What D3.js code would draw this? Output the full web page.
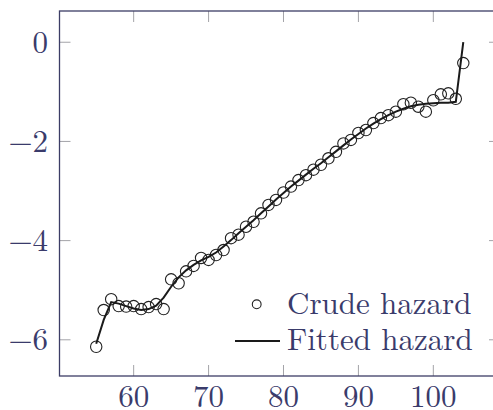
<!DOCTYPE html>
<html>
<head>
<meta charset="utf-8">
<script src="https://cdn.jsdelivr.net/npm/d3@7"></script>
<style>
    body { margin: 0; background: #fff; }
    svg text { font-family: "Latin Modern Roman", "CMU Serif", "Liberation Serif", serif; fill: #3a3b6b; }
</style>
</head>
<body>
<div id="vis"></div>
<script>
const width = 493;
const height = 410;

const ages = d3.range(55, 105);
const crudeHazard = [
    -6.14, -5.40, -5.18, -5.32, -5.33, -5.32, -5.38, -5.34, -5.28, -5.38,
    -4.78, -4.86, -4.62, -4.51, -4.35, -4.39, -4.29, -4.19, -3.95, -3.88,
    -3.72, -3.62, -3.45, -3.28, -3.18, -3.03, -2.91, -2.78, -2.68, -2.57,
    -2.47, -2.34, -2.21, -2.04, -1.97, -1.83, -1.77, -1.63, -1.53, -1.47,
    -1.40, -1.25, -1.22, -1.30, -1.40, -1.17, -1.05, -1.03, -1.14, -0.42
];
const fittedHazard = [
    -6.08, -5.60, -5.24, -5.27, -5.32, -5.37, -5.40, -5.38, -5.31, -5.15,
    -4.93, -4.74, -4.60, -4.49, -4.40, -4.33, -4.24, -4.12, -3.99, -3.85,
    -3.72, -3.59, -3.45, -3.31, -3.17, -3.04, -2.91, -2.79, -2.67, -2.55,
    -2.44, -2.32, -2.20, -2.08, -1.96, -1.85, -1.74, -1.64, -1.55, -1.47,
    -1.40, -1.34, -1.29, -1.26, -1.24, -1.23, -1.22, -1.22, -1.20, 0.00
];
const xTicks = [60, 70, 80, 90, 100];
const yTicks = [0, -2, -4, -6];
const legendLabels = ["Crude hazard", "Fitted hazard"];

const frame = { left: 59.5, right: 500, top: 11, bottom: 376 };
const tickLen = 11;

const svg = d3.select("#vis").append("svg")
    .attr("width", width)
    .attr("height", height);

const xScale = d3.scaleLinear()
    .domain([50.1, 108.9])
    .range([frame.left, frame.right]);

const yScale = d3.scaleLinear()
    .domain([-6.73, 0.63])
    .range([frame.bottom, frame.top]);

// inner tick marks on all four sides
const tickColor = "#a3a3a8";
xTicks.forEach(t => {
    svg.append("line").attr("x1", xScale(t)).attr("x2", xScale(t))
        .attr("y1", frame.bottom).attr("y2", frame.bottom - tickLen)
        .attr("stroke", tickColor).attr("stroke-width", 1);
    svg.append("line").attr("x1", xScale(t)).attr("x2", xScale(t))
        .attr("y1", frame.top).attr("y2", frame.top + tickLen)
        .attr("stroke", tickColor).attr("stroke-width", 1);
});
yTicks.forEach(t => {
    svg.append("line").attr("x1", frame.left).attr("x2", frame.left + tickLen)
        .attr("y1", yScale(t)).attr("y2", yScale(t))
        .attr("stroke", tickColor).attr("stroke-width", 1);
    svg.append("line").attr("x1", frame.right).attr("x2", frame.right - tickLen)
        .attr("y1", yScale(t)).attr("y2", yScale(t))
        .attr("stroke", tickColor).attr("stroke-width", 1);
});

svg.append("rect")
    .attr("x", frame.left)
    .attr("y", frame.top)
    .attr("width", frame.right - frame.left)
    .attr("height", frame.bottom - frame.top)
    .attr("fill", "none")
    .attr("stroke", "#3c3d66")
    .attr("stroke-width", 1.3);

// tick labels
svg.selectAll(".xlabel").data(xTicks).enter().append("text")
    .attr("class", "xlabel")
    .attr("x", d => xScale(d))
    .attr("y", 407)
    .attr("text-anchor", "middle")
    .style("font-size", "31px")
    .text(d => d);

svg.selectAll(".ylabel").data(yTicks).enter().append("text")
    .attr("class", "ylabel")
    .attr("x", 48)
    .attr("y", d => yScale(d) + 10.5)
    .attr("text-anchor", "end")
    .style("font-size", "31px")
    .text(d => d < 0 ? "\u2212" + Math.abs(d) : d);

// crude hazard markers
svg.selectAll(".crude").data(ages).enter().append("circle")
    .attr("class", "crude")
    .attr("cx", d => xScale(d))
    .attr("cy", (d, i) => yScale(crudeHazard[i]))
    .attr("r", 5.7)
    .attr("fill", "none")
    .attr("stroke", "#222")
    .attr("stroke-width", 1.1);

// fitted hazard line
const line = d3.line()
    .x(d => xScale(d))
    .y((d, i) => yScale(fittedHazard[i]));

svg.append("path")
    .datum(ages)
    .attr("d", line)
    .attr("fill", "none")
    .attr("stroke", "#1a1a1a")
    .attr("stroke-width", 2);

// legend
const legend = svg.append("g");
legend.append("circle")
    .attr("cx", 256.7).attr("cy", 304.3).attr("r", 4.4)
    .attr("fill", "none").attr("stroke", "#222").attr("stroke-width", 1.1);
legend.append("line")
    .attr("x1", 235).attr("x2", 280).attr("y1", 341).attr("y2", 341)
    .attr("stroke", "#1a1a1a").attr("stroke-width", 2);
legend.selectAll(".leg").data(legendLabels).enter().append("text")
    .attr("class", "leg")
    .attr("x", 287)
    .attr("y", (d, i) => 313.5 + i * 36.5)
    .style("font-size", "31px")
    .text(d => d);
</script>
</body>
</html>
